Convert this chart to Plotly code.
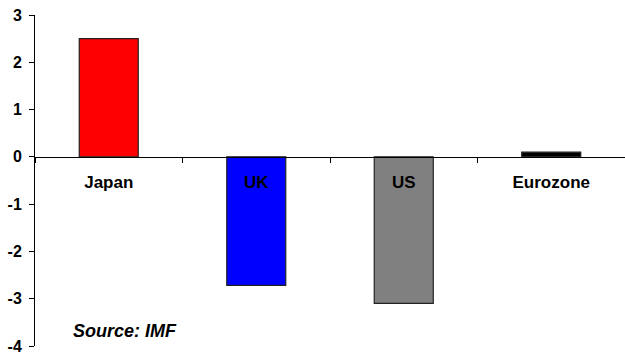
import plotly.graph_objects as go

categories = ["Japan", "UK", "US", "Eurozone"]
values = [2.5, -2.72, -3.1, 0.1]
bar_colors = ["#FF0000", "#0000FF", "#808080", "#000000"]
y_ticks = [3, 2, 1, 0, -1, -2, -3, -4]
y_tick_labels = ["3", "2", "1", "0", "-1", "-2", "-3", "-4"]
source_text = "Source: IMF"

FONT = "Liberation Sans, Arial, sans-serif"

fig = go.Figure(
    go.Bar(
        x=categories,
        y=values,
        width=0.4,
        marker=dict(color=bar_colors, line=dict(color="#222222", width=1.2)),
    )
)

fig.update_layout(
    width=625,
    height=358,
    margin=dict(l=35, r=0, t=15, b=12),
    paper_bgcolor="white",
    plot_bgcolor="white",
    showlegend=False,
    font=dict(family=FONT, color="black"),
)

fig.update_yaxes(
    range=[-4, 3],
    tickvals=y_ticks,
    ticktext=y_tick_labels,
    ticks="outside",
    ticklen=5,
    tickcolor="black",
    showline=True,
    linecolor="black",
    linewidth=1,
    showgrid=False,
    zeroline=False,
    ticklabelstandoff=4,
    tickfont=dict(size=16, weight="bold", family=FONT, color="black"),
)

fig.update_xaxes(
    anchor="free",
    position=4 / 7,
    showline=True,
    linecolor="black",
    linewidth=1,
    ticks="outside",
    ticklen=5,
    tickcolor="black",
    tickson="boundaries",
    showgrid=False,
    ticklabelstandoff=10,
    tickfont=dict(size=17, weight="bold", family=FONT, color="black"),
)

fig.add_annotation(
    text=source_text,
    xref="paper",
    yref="paper",
    x=0.1525,
    y=0.046,
    xanchor="center",
    yanchor="middle",
    showarrow=False,
    font=dict(size=18, weight="bold", style="italic", family=FONT, color="black"),
)

fig.write_html("out.html")
